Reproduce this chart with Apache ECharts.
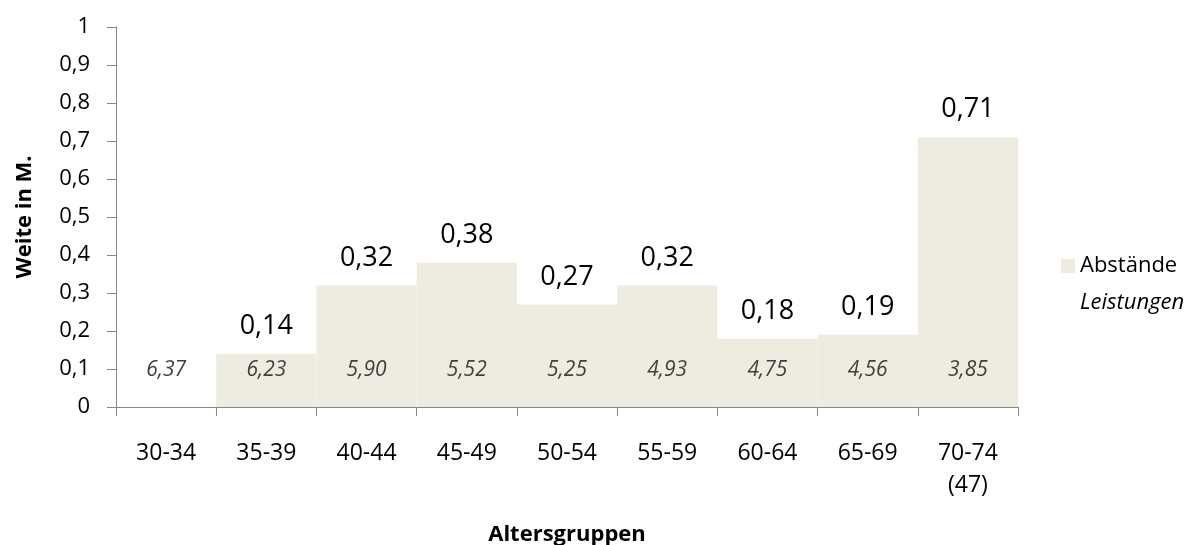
<!DOCTYPE html>
<html>
<head>
<meta charset="utf-8">
<script src="https://cdn.jsdelivr.net/npm/echarts@6/dist/echarts.min.js"></script>
<style>
  html, body { margin: 0; padding: 0; background: #ffffff; }
  #chart { width: 1202px; height: 545px; }
</style>
</head>
<body>
<div id="chart"></div>
<script>
// Age groups on the x axis
const categories = ['30-34', '35-39', '40-44', '45-49', '50-54', '55-59', '60-64', '65-69', '70-74\n(47)'];
// Gap to the next-younger group, in metres (bar heights)
const abstaende = [null, 0.14, 0.32, 0.38, 0.27, 0.32, 0.18, 0.19, 0.71];
// Performance of each age group, in metres (italic labels at the bar foot)
const leistungen = [6.37, 6.23, 5.90, 5.52, 5.25, 4.93, 4.75, 4.56, 3.85];
// Value axis tick labels
const yTickLabels = ['0', '0,1', '0,2', '0,3', '0,4', '0,5', '0,6', '0,7', '0,8', '0,9', '1'];

const FONT = '"Open Sans", "DejaVu Sans", sans-serif';
const BAR_COLOR = '#EEECE1';
const AXIS_COLOR = '#868686';

const comma = (v, d) => v.toFixed(d).replace('.', ',');

const chart = echarts.init(document.getElementById('chart'), null, { renderer: 'canvas' });

chart.setOption({
  animation: false,
  backgroundColor: '#ffffff',
  textStyle: { fontFamily: FONT },
  grid: {
    left: 116, right: 184, top: 27, bottom: 138,
    containLabel: false,
    outerBoundsMode: 'none'
  },
  legend: {
    orient: 'vertical',
    left: 1061,
    top: 255,
    padding: 0,
    itemWidth: 14,
    itemHeight: 14,
    itemGap: 15,
    selectedMode: false,
    textStyle: { fontFamily: FONT, fontSize: 22, color: '#000000' },
    data: [
      { name: 'Abstände', icon: 'rect' },
      { name: 'Leistungen', icon: 'none', textStyle: { fontStyle: 'italic', color: '#000000' } }
    ]
  },
  xAxis: {
    type: 'category',
    data: categories,
    name: 'Altersgruppen',
    nameLocation: 'middle',
    nameGap: 117,
    nameTextStyle: { fontFamily: FONT, fontSize: 22, fontWeight: 'bold', color: '#000000' },
    axisLine: { lineStyle: { color: AXIS_COLOR, width: 1 } },
    axisTick: { show: true, length: 9, lineStyle: { color: AXIS_COLOR } },
    axisLabel: {
      fontFamily: FONT, fontSize: 23, color: '#000000',
      margin: 30, lineHeight: 32, interval: 0
    },
    splitLine: { show: false }
  },
  yAxis: {
    type: 'value',
    min: 0,
    max: 1,
    interval: 0.1,
    name: 'Weite in M.',
    nameLocation: 'middle',
    nameGap: 80,
    nameRotate: 90,
    nameTextStyle: { fontFamily: FONT, fontSize: 22, fontWeight: 'bold', color: '#000000' },
    axisLine: { show: true, lineStyle: { color: AXIS_COLOR, width: 1 } },
    axisTick: { show: true, length: 9, lineStyle: { color: AXIS_COLOR } },
    axisLabel: {
      fontFamily: FONT, fontSize: 22, color: '#000000', margin: 26,
      formatter: v => yTickLabels[Math.round(v * 10)]
    },
    splitLine: { show: false }
  },
  series: [
    {
      name: 'Abstände',
      type: 'bar',
      data: abstaende,
      barCategoryGap: 0,
      itemStyle: { color: BAR_COLOR },
      label: {
        show: true,
        position: 'top',
        distance: 14,
        fontFamily: FONT,
        fontSize: 27,
        color: '#000000',
        formatter: p => (p.value == null ? '' : comma(p.value, 2))
      },
      z: 2
    },
    {
      name: 'Leistungen',
      type: 'custom',
      data: leistungen.map((v, i) => [i, v]),
      itemStyle: { color: 'transparent' },
      renderItem: (params, api) => {
        const base = api.coord([api.value(0), 0]);
        return {
          type: 'text',
          x: base[0],
          y: base[1] - 37,
          style: {
            text: comma(api.value(1), 2),
            fill: '#404040',
            font: 'italic 21px ' + FONT,
            align: 'center',
            verticalAlign: 'middle'
          }
        };
      },
      z: 5
    }
  ]
});
</script>
</body>
</html>
